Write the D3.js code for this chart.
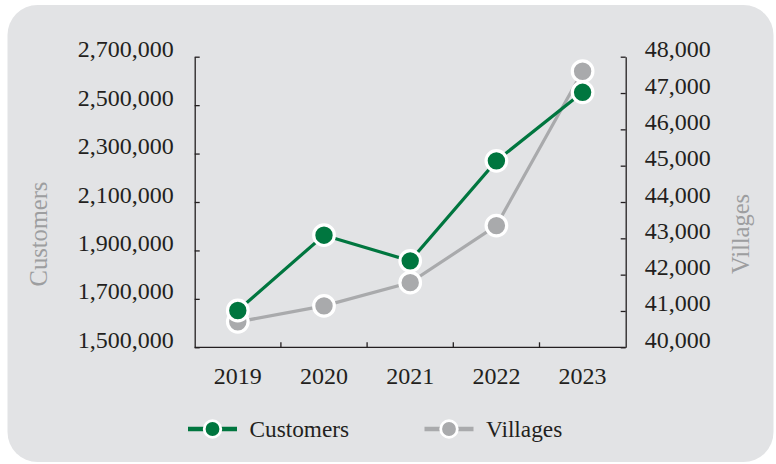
<!DOCTYPE html>
<html>
<head>
<meta charset="utf-8">
<script src="https://cdn.jsdelivr.net/npm/d3@7"></script>
<style>
  body { margin: 0; background: #fff; }
  svg { display: block; font-family: "Liberation Serif", "Times New Roman", serif; }
  .axis text { fill: #231f20; font-size: 24px; font-family: "Liberation Serif", "Times New Roman", serif; }
  .axis path, .axis line { stroke: #231f20; stroke-width: 1.3; }
</style>
</head>
<body>
<script>
// data
var years = ["2019", "2020", "2021", "2022", "2023"]
var customers = [1652000, 1963000, 1857000, 2270000, 2553000]
var villages = [40700, 41140, 41780, 43350, 47600]
var leftTicks = [1500000, 1700000, 1900000, 2100000, 2300000, 2500000, 2700000]
var rightTicks = [40000, 41000, 42000, 43000, 44000, 45000, 46000, 47000, 48000]

var w = 776, h = 464
var plotL = 194.7, plotR = 625.7    // plot edges
var plotT = 56.7, plotB = 347.3

var green = "#00763f"
var grey = "#a9aaac"

var svg = d3.select("body").append("svg")
  .attr("width", w)
  .attr("height", h)

// rounded panel
svg.append("rect")
  .attr("x", 7.5).attr("y", 5)
  .attr("width", 766).attr("height", 457)
  .attr("rx", 30).attr("ry", 30)
  .attr("fill", "#e2e3e5")

var x = d3.scaleBand().domain(years).range([plotL, plotR])
var yL = d3.scaleLinear().domain([1500000, 2700000]).range([plotB, plotT])
var yR = d3.scaleLinear().domain([40000, 48000]).range([plotB, plotT])
var fmt = d3.format(",")

// left axis
var gL = svg.append("g").attr("class", "axis")
  .attr("transform", "translate(" + plotL + ",0)")
  .call(d3.axisLeft(yL).tickValues(leftTicks).tickFormat(fmt)
    .tickSize(-5).tickSizeOuter(0).tickPadding(21))
gL.selectAll("text").attr("dy", "0")

// right axis
var gR = svg.append("g").attr("class", "axis")
  .attr("transform", "translate(" + plotR + ",0)")
  .call(d3.axisRight(yR).tickValues(rightTicks).tickFormat(fmt)
    .tickSize(-5).tickSizeOuter(0).tickPadding(19))
gR.selectAll("text").attr("dy", "0")

// bottom axis, ticks sit between the years
var gB = svg.append("g").attr("class", "axis")
gB.append("line")
  .attr("x1", plotL).attr("x2", plotR)
  .attr("y1", plotB).attr("y2", plotB)
gB.selectAll("line.tick")
  .data(years.slice(1))
  .enter().append("line")
  .attr("class", "tick")
  .attr("x1", function (d) { return x(d) }).attr("x2", function (d) { return x(d) })
  .attr("y1", plotB).attr("y2", plotB - 5)
gB.selectAll("text")
  .data(years)
  .enter().append("text")
  .attr("x", function (d) { return x(d) + x.bandwidth() / 2 })
  .attr("y", 384)
  .attr("text-anchor", "middle")
  .text(function (d) { return d })

// axis titles
svg.append("text")
  .attr("transform", "translate(47,234) rotate(-90)")
  .attr("text-anchor", "middle")
  .attr("fill", "#9d9ea0")
  .style("font-size", "24.5px")
  .text("Customers")
svg.append("text")
  .attr("transform", "translate(749,234) rotate(-90)")
  .attr("text-anchor", "middle")
  .attr("fill", "#9d9ea0")
  .style("font-size", "24.5px")
  .text("Villages")

function cx(d, i) { return x(years[i]) + x.bandwidth() / 2 }

function drawSeries(values, scale, color) {
  var line = d3.line()
    .x(cx)
    .y(function (d) { return scale(d) })
  svg.append("path")
    .datum(values)
    .attr("d", line)
    .attr("fill", "none")
    .attr("stroke", color)
    .attr("stroke-width", 3.2)
  svg.append("g").selectAll("circle")
    .data(values)
    .enter().append("circle")
    .attr("cx", cx)
    .attr("cy", function (d) { return scale(d) })
    .attr("r", 10.3)
    .attr("fill", color)
    .attr("stroke", "#fff")
    .attr("stroke-width", 3.2)
}

drawSeries(villages, yR, grey)
drawSeries(customers, yL, green)

// legend
var legend = [
  { name: "Customers", color: green, x: 188 },
  { name: "Villages", color: grey, x: 424.5 }
]
var lg = svg.append("g").selectAll("g")
  .data(legend)
  .enter().append("g")
  .attr("transform", function (d) { return "translate(" + d.x + ",429)" })
lg.append("line")
  .attr("x1", 0).attr("x2", 49)
  .attr("stroke", function (d) { return d.color })
  .attr("stroke-width", 4.5)
lg.append("circle")
  .attr("cx", 24.5)
  .attr("r", 8.3)
  .attr("fill", function (d) { return d.color })
  .attr("stroke", "#fff")
  .attr("stroke-width", 2.8)
lg.append("text")
  .attr("x", 61.5)
  .attr("y", 8)
  .attr("fill", "#231f20")
  .style("font-size", "23.3px")
  .text(function (d) { return d.name })
</script>
</body>
</html>
